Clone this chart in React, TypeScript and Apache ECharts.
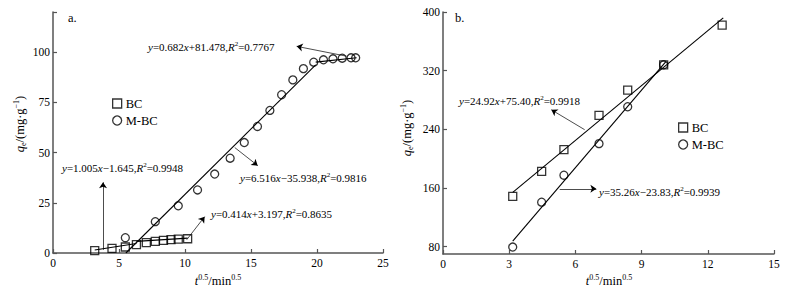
import React, { useEffect, useRef } from "react";
import * as echarts from "echarts";

// ---- Data: panel a (left) ----
const aBC: [number, number][] = [
  [3.16, 1.2], [4.47, 2.3], [5.48, 3.0], [6.32, 4.2], [7.07, 5.2],
  [7.75, 5.8], [8.37, 6.3], [8.94, 6.7], [9.49, 6.9], [10.2, 7.1],
];
const aMBC: [number, number][] = [
  [5.48, 7.6], [7.75, 15.6], [9.49, 23.5], [10.95, 31.4], [12.25, 39.3],
  [13.42, 47.2], [14.49, 55.0], [15.49, 63.0], [16.43, 71.0], [17.32, 78.8],
  [18.17, 86.2], [18.97, 91.8], [19.75, 95.0], [20.49, 96.2], [21.21, 96.7],
  [21.91, 97.0], [22.58, 97.2], [22.93, 97.2],
];
const aFitBC1: [number, number][] = [[3.16, 1.53], [6.32, 4.71]];
const aFitBC2: [number, number][] = [[6.32, 5.81], [10.2, 7.42]];
const aFitMBC1: [number, number][] = [[5.52, 0], [19.9, 93.7]];
const aFitMBC2: [number, number][] = [[19.9, 95.05], [23.0, 97.2]];
const aArrows: [number, number][][] = [
  [[22.23, 98.0], [18.46, 102.9]],
  [[3.79, 1.6], [3.79, 35.2]],
  [[13.77, 52.5], [15.51, 43.5]],
  [[10.13, 6.6], [11.49, 18.1]],
];
const aXTicks = [0, 5, 10, 15, 20, 25];
const aYTicks = [0, 25, 50, 75, 100, 120];
const aYLabels = [0, 25, 50, 75, 100];

// ---- Data: panel b (right) ----
const bBC: [number, number][] = [
  [3.16, 148.5], [4.47, 182.8], [5.48, 212.3], [7.07, 259.0],
  [8.37, 293.5], [10.0, 328.0], [12.65, 382.0],
];
const bMBC: [number, number][] = [
  [3.16, 79.5], [4.47, 140.7], [5.48, 177.4], [7.07, 220.5],
  [8.37, 270.8], [10.0, 328.0],
];
const bFitBC: [number, number][] = [[3.16, 154.1], [12.7, 391.9]];
const bFitMBC: [number, number][] = [[3.16, 87.6], [10.1, 332.3]];
const bArrows: [number, number][][] = [
  [[6.42, 239.5], [4.91, 266.7]],
  [[5.29, 158.9], [6.95, 158.9]],
];
const bYTicks = [80, 160, 240, 320, 400];

const FONT = "Liberation Serif";

const rich = {
  n: { fontFamily: FONT, fontSize: 11, color: "#000", lineHeight: 14 },
  i: { fontFamily: FONT, fontSize: 11, color: "#000", fontStyle: "italic", lineHeight: 14 },
  sup: { fontFamily: FONT, fontSize: 7, color: "#000", verticalAlign: "top", lineHeight: 8 },
  N: { fontFamily: FONT, fontSize: 12.5, color: "#000", lineHeight: 15 },
  I: { fontFamily: FONT, fontSize: 12.5, color: "#000", fontStyle: "italic", lineHeight: 15 },
  sub: { fontFamily: FONT, fontSize: 8, color: "#000", verticalAlign: "bottom", lineHeight: 7 },
  sp: { fontFamily: FONT, fontSize: 8, color: "#000", verticalAlign: "top", lineHeight: 9 },
};

const eq = (a: string, b: string, r: string) =>
  `{i|y}{n|=${a}}{i|x}{n|${b},}{i|R}{sup|2}{n|=${r}}`;

const xName = "{I|t}{sp|0.5}{N|/min}{sp|0.5}";
const yName = "{I|q}{sub|e}{N|/(mg·g}{sp|−1}{N|)}";

const axisLine = { show: true, lineStyle: { color: "#555", width: 1.5 } };
const axisTick = { show: true, inside: true, length: 4, lineStyle: { color: "#555", width: 1.2 } };
const axisLabel = { color: "#000", fontFamily: FONT, fontSize: 11.5 };

export default function App() {
  const ref = useRef<HTMLDivElement>(null);
  useEffect(() => {
    if (!ref.current) return;
    const chart = echarts.init(ref.current, null, { renderer: "svg" });
    const markerStyle = { color: "transparent", borderColor: "#000", borderWidth: 1.3 };
    const fitLine = (data: [number, number][], xi: number) => ({
      type: "line", name: "fit", xAxisIndex: xi, yAxisIndex: xi, data,
      showSymbol: false, symbol: "none", silent: true,
      lineStyle: { color: "#000", width: 1.1 }, z: 3,
    });
    const arrows = (data: [number, number][][], xi: number) => ({
      type: "lines", name: "arrow", coordinateSystem: "cartesian2d",
      xAxisIndex: xi, yAxisIndex: xi, silent: true,
      symbol: ["none", "arrow"], symbolSize: 6,
      lineStyle: { color: "#000", width: 0.7, opacity: 1 },
      data: data.map((c) => ({ coords: c })),
    });
    const scatter = (name: string, symbol: string, data: [number, number][], xi: number) => ({
      type: "scatter", name, symbol, symbolSize: 8, xAxisIndex: xi, yAxisIndex: xi,
      data, itemStyle: markerStyle, z: 4,
    });
    const text = (x: number, y: number, t: string, extra: any = {}) => ({
      type: "text", x, y, silent: true,
      style: { text: t, rich, verticalAlign: "middle", align: "left", fontFamily: FONT, fontSize: 11.5, fill: "#000", ...extra },
    });
    const legend = (left: number, top: number) => ({
      left, top, orient: "vertical", itemGap: 4, itemWidth: 9, itemHeight: 9,
      selectedMode: false,
      data: [{ name: "BC", icon: "rect" }, { name: "M-BC", icon: "circle" }],
      itemStyle: { color: "transparent", borderColor: "#000", borderWidth: 1.3 },
      textStyle: { fontFamily: FONT, fontSize: 12.5, color: "#000", padding: [0, 0, 0, -1] },
    });
    chart.setOption({
      animation: false,
      backgroundColor: "#fff",
      grid: [
        { left: 53, top: 12, width: 330, height: 241 },
        { left: 443, top: 12, width: 331, height: 242 },
      ],
      legend: [legend(107, 92), legend(673, 116)],
      xAxis: [
        {
          type: "value", gridIndex: 0, min: 0, max: 25, interval: 5,
          axisLine, axisTick: { ...axisTick, customValues: aXTicks },
          axisLabel: { ...axisLabel, margin: 4, customValues: aXTicks },
          splitLine: { show: false },
        },
        {
          type: "value", gridIndex: 1, min: 0, max: 15, interval: 3,
          axisLine, axisTick,
          axisLabel: { ...axisLabel, margin: 4 },
          splitLine: { show: false },
        },
      ],
      yAxis: [
        {
          type: "value", gridIndex: 0, min: 0, max: 120,
          axisLine, axisTick: { ...axisTick, customValues: aYTicks },
          axisLabel: { ...axisLabel, margin: 3, customValues: aYLabels },
          splitLine: { show: false },
        },
        {
          type: "value", gridIndex: 1, min: 70, max: 400,
          axisLine, axisTick: { ...axisTick, customValues: bYTicks },
          axisLabel: { ...axisLabel, margin: 3, customValues: bYTicks },
          splitLine: { show: false },
        },
      ],
      series: [
        fitLine(aFitBC1, 0), fitLine(aFitBC2, 0), fitLine(aFitMBC1, 0), fitLine(aFitMBC2, 0),
        fitLine(bFitBC, 1), fitLine(bFitMBC, 1),
        arrows(aArrows, 0), arrows(bArrows, 1),
        scatter("BC", "rect", aBC, 0), scatter("M-BC", "circle", aMBC, 0),
        scatter("BC", "rect", bBC, 1), scatter("M-BC", "circle", bMBC, 1),
      ],
      graphic: [
        text(68, 18, "a.", { fontSize: 12.5 }),
        text(455, 18, "b.", { fontSize: 12.5 }),
        text(148, 47, eq("0.682", "+81.478", "0.7767")),
        text(62, 168, eq("1.005", "−1.645", "0.9948")),
        text(240, 178, eq("6.516", "−35.938", "0.9816")),
        text(211, 214, eq("0.414", "+3.197", "0.8635")),
        text(459, 101, eq("24.92", "+75.40", "0.9918")),
        text(599, 192, eq("35.26", "−23.83", "0.9939")),
        text(218, 281, xName, { align: "center" }),
        text(609, 281, xName, { align: "center" }),
        { ...text(20, 124, yName, { align: "center" }), rotation: Math.PI / 2 },
        { ...text(407, 128, yName, { align: "center" }), rotation: Math.PI / 2 },
      ],
    });
    return () => chart.dispose();
  }, []);
  return (
    <div
      ref={ref}
      style={{ position: "fixed", left: 0, top: 0, width: 794, height: 296, background: "#fff" }}
    />
  );
}
